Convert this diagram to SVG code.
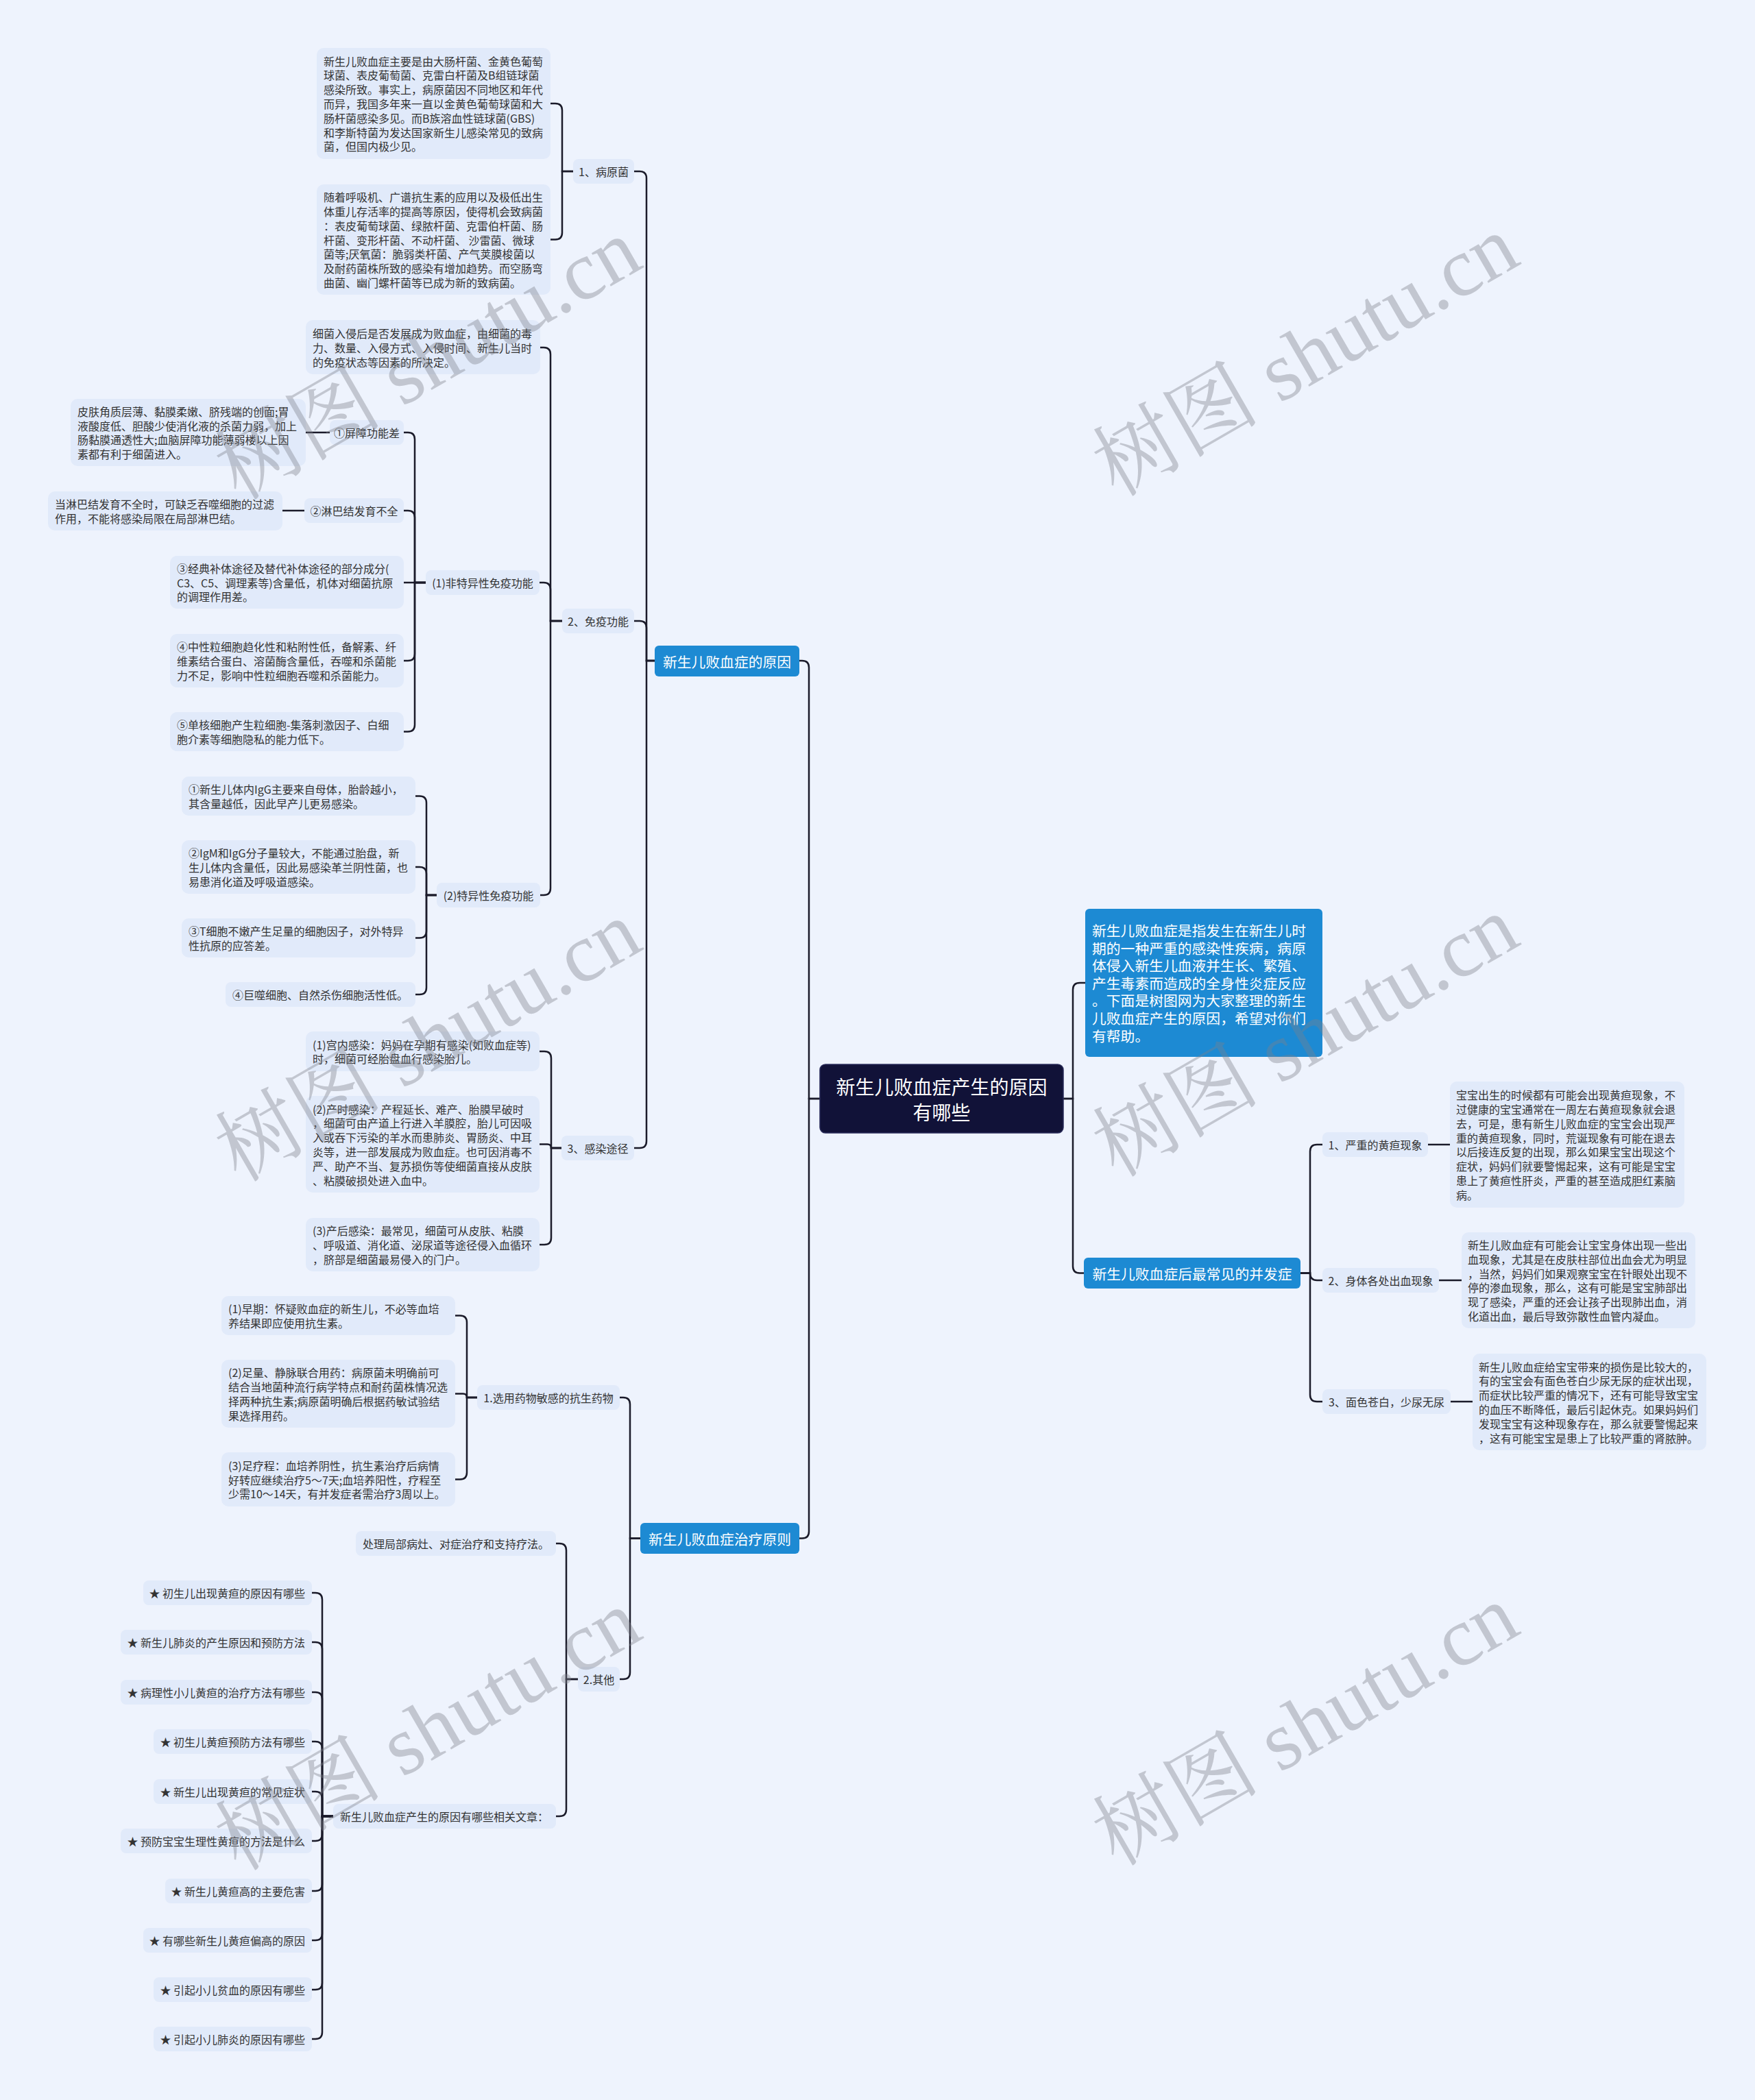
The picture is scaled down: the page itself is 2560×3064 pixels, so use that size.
<svg xmlns="http://www.w3.org/2000/svg" width="2560" height="3064" viewBox="0 0 2560 3064">
<style>
.bg{fill:#eef3fd}
.n rect{fill:#e1eafa}
.b rect{fill:#1d8ad3}
.t{font-family:"Noto Sans CJK SC","Noto Sans",sans-serif;font-size:16px;fill:#333;dominant-baseline:central}
.tc{text-anchor:middle}
.te{text-anchor:end}
.tw{font-family:"Noto Sans CJK SC","Noto Sans",sans-serif;font-size:20.8px;fill:#fff;dominant-baseline:central}
.tr{font-family:"Noto Sans CJK SC","Noto Sans",sans-serif;font-size:28px;fill:#fff;dominant-baseline:central;text-anchor:middle}
.c path{fill:none;stroke:#1b1b2a;stroke-width:2.5}
.wm{font-family:"Liberation Serif","Noto Serif CJK SC","Noto Sans CJK SC",serif;font-size:122px;fill:#7d808a;opacity:0.38}
</style>
<rect class="bg" x="0" y="0" width="2560" height="3064"/>

<g id="connectors" class="c">
<path d="M1196 1603 H1180 V974 Q1180 964 1170 964 H1166"/>
<path d="M1196 1603 H1180 V2234.5 Q1180 2244.5 1170 2244.5 H1166"/>
<path d="M1551 1603 H1565 V1444 Q1565 1434 1575 1434 H1583"/>
<path d="M1551 1603 H1565 V1847.5 Q1565 1857.5 1575 1857.5 H1581"/>
<path d="M955 964 H943 V260 Q943 250 933 250 H925"/>
<path d="M955 964 H943 V916 Q943 906 933 906 H925"/>
<path d="M955 964 H943 V1665 Q943 1675 933 1675 H925"/>
<path d="M836 250 H820 V161 Q820 151 810 151 H803"/>
<path d="M836 250 H820 V339.5 Q820 349.5 810 349.5 H803"/>
<path d="M820 906 H803 V517 Q803 507 793 507 H788"/>
<path d="M820 906 H803 V860 Q803 850 793 850 H787"/>
<path d="M820 906 H803 V1296 Q803 1306 793 1306 H788"/>
<path d="M621 850 H605 V641 Q605 631 595 631 H589"/>
<path d="M621 850 H605 V755 Q605 745 595 745 H589"/>
<path d="M621 850 H589"/>
<path d="M621 850 H605 V954 Q605 964 595 964 H589"/>
<path d="M621 850 H605 V1057.5 Q605 1067.5 595 1067.5 H589"/>
<path d="M481 631 H446"/>
<path d="M444 745 H412"/>
<path d="M637 1306 H622 V1171.5 Q622 1161.5 612 1161.5 H606"/>
<path d="M637 1306 H622 V1275 Q622 1265 612 1265 H606"/>
<path d="M637 1306 H622 V1358.5 Q622 1368.5 612 1368.5 H606"/>
<path d="M637 1306 H622 V1441 Q622 1451 612 1451 H606"/>
<path d="M819 1675 H804 V1544 Q804 1534 794 1534 H787"/>
<path d="M819 1675 H804 Q804 1669.5 798.5 1669.5 H787"/>
<path d="M819 1675 H804 V1806 Q804 1816 794 1816 H787"/>
<path d="M934 2244.5 H919 V2049 Q919 2039 909 2039 H904"/>
<path d="M934 2244.5 H919 V2440 Q919 2450 909 2450 H904"/>
<path d="M696 2039 H681 V1929.5 Q681 1919.5 671 1919.5 H664"/>
<path d="M696 2039 H681 Q681 2033.5 675.5 2033.5 H664"/>
<path d="M696 2039 H681 V2148.5 Q681 2158.5 671 2158.5 H664"/>
<path d="M843 2450 H826 V2262 Q826 2252 816 2252 H811"/>
<path d="M843 2450 H826 V2640 Q826 2650 816 2650 H811"/>
<path d="M486 2650 H470 V2334 Q470 2324 460 2324 H455"/>
<path d="M486 2650 H470 V2406 Q470 2396 460 2396 H455"/>
<path d="M486 2650 H470 V2479 Q470 2469 460 2469 H455"/>
<path d="M486 2650 H470 V2551 Q470 2541 460 2541 H455"/>
<path d="M486 2650 H470 V2624 Q470 2614 460 2614 H455"/>
<path d="M486 2650 H470 V2676 Q470 2686 460 2686 H455"/>
<path d="M486 2650 H470 V2749 Q470 2759 460 2759 H455"/>
<path d="M486 2650 H470 V2821 Q470 2831 460 2831 H455"/>
<path d="M486 2650 H470 V2893 Q470 2903 460 2903 H455"/>
<path d="M486 2650 H470 V2965 Q470 2975 460 2975 H455"/>
<path d="M1897 1857.5 H1911 V1680 Q1911 1670 1921 1670 H1929"/>
<path d="M1897 1857.5 H1911 Q1911 1868 1921 1868 H1929"/>
<path d="M1897 1857.5 H1911 V2035 Q1911 2045 1921 2045 H1929"/>
<path d="M2083 1670 H2115"/>
<path d="M2099 1868 H2132"/>
<path d="M2116 2045 H2148"/>
</g>

<g id="root"><rect x="1196" y="1553" width="355" height="100" rx="8" fill="#111238" stroke="#2a2c5a" stroke-width="1.5"/>
<text class="tr" x="1373.5" y="1585">新生儿败血症产生的原因</text><text class="tr" x="1373.5" y="1622">有哪些</text></g>

<g id="cause" class="b"><rect x="955" y="942" width="211" height="45" rx="6"/><text class="tw tc" x="1060.5" y="964.5">新生儿败血症的原因</text></g>
<g id="treat" class="b"><rect x="934" y="2222" width="232" height="45" rx="6"/><text class="tw tc" x="1050" y="2244.5">新生儿败血症治疗原则</text></g>
<g id="intro" class="b"><rect x="1583" y="1326" width="346" height="216" rx="6"/>
<text class="tw"><tspan x="1593" y="1357">新生儿败血症是指发生在新生儿时</tspan><tspan x="1593" y="1382.6">期的一种严重的感染性疾病，病原</tspan><tspan x="1593" y="1408.2">体侵入新生儿血液并生长、繁殖、</tspan><tspan x="1593" y="1433.8">产生毒素而造成的全身性炎症反应</tspan><tspan x="1593" y="1459.4">。下面是树图网为大家整理的新生</tspan><tspan x="1593" y="1485">儿败血症产生的原因，希望对你们</tspan><tspan x="1593" y="1510.6">有帮助。</tspan></text></g>
<g id="complic" class="b"><rect x="1581" y="1835" width="316" height="45" rx="6"/><text class="tw tc" x="1739" y="1857.5">新生儿败血症后最常见的并发症</text></g>

<g id="n1" class="n"><rect x="836" y="232" width="89" height="36" rx="8"/><text class="t tc" x="880.5" y="250">1、病原菌</text></g>
<g id="t1a" class="n"><rect x="462" y="70" width="341" height="162" rx="10"/>
<text class="t"><tspan x="472" y="88.6">新生儿败血症主要是由大肠杆菌、金黄色葡萄</tspan><tspan x="472" y="109.4">球菌、表皮葡萄菌、克雷白杆菌及B组链球菌</tspan><tspan x="472" y="130.2">感染所致。事实上，病原菌因不同地区和年代</tspan><tspan x="472" y="151">而异，我国多年来一直以金黄色葡萄球菌和大</tspan><tspan x="472" y="171.8">肠杆菌感染多见。而B族溶血性链球菌(GBS)</tspan><tspan x="472" y="192.6">和李斯特菌为发达国家新生儿感染常见的致病</tspan><tspan x="472" y="213.4">菌，但国内极少见。</tspan></text></g>
<g id="t1b" class="n"><rect x="462" y="269" width="341" height="161" rx="10"/>
<text class="t"><tspan x="472" y="287.1">随着呼吸机、广谱抗生素的应用以及极低出生</tspan><tspan x="472" y="307.9">体重儿存活率的提高等原因，使得机会致病菌</tspan><tspan x="472" y="328.7">：表皮葡萄球菌、绿脓杆菌、克雷伯杆菌、肠</tspan><tspan x="472" y="349.5">杆菌、变形杆菌、不动杆菌、 沙雷菌、微球</tspan><tspan x="472" y="370.3">菌等;厌氧菌：脆弱类杆菌、产气荚膜梭菌以</tspan><tspan x="472" y="391.1">及耐药菌株所致的感染有增加趋势。而空肠弯</tspan><tspan x="472" y="411.9">曲菌、幽门螺杆菌等已成为新的致病菌。</tspan></text></g>

<g id="n2" class="n"><rect x="820" y="888" width="105" height="36" rx="8"/><text class="t tc" x="872.5" y="906">2、免疫功能</text></g>
<g id="t2" class="n"><rect x="446" y="467" width="342" height="79" rx="10"/>
<text class="t"><tspan x="456" y="486.2">细菌入侵后是否发展成为败血症，由细菌的毒</tspan><tspan x="456" y="507">力、数量、入侵方式、入侵时间、新生儿当时</tspan><tspan x="456" y="527.8">的免疫状态等因素的所决定。</tspan></text></g>
<g id="n21" class="n"><rect x="621" y="832" width="166" height="36" rx="8"/><text class="t tc" x="704" y="850">(1)非特异性免疫功能</text></g>
<g id="n211" class="n"><rect x="481" y="613" width="108" height="36" rx="8"/><text class="t tc" x="535" y="631">①屏障功能差</text></g>
<g id="t211" class="n"><rect x="103" y="582" width="343" height="98" rx="10"/>
<text class="t"><tspan x="113" y="599.8">皮肤角质层薄、黏膜柔嫩、脐残端的创面;胃</tspan><tspan x="113" y="620.6">液酸度低、胆酸少使消化液的杀菌力弱，加上</tspan><tspan x="113" y="641.4">肠黏膜通透性大;血脑屏障功能薄弱楼以上因</tspan><tspan x="113" y="662.2">素都有利于细菌进入。</tspan></text></g>
<g id="n212" class="n"><rect x="444" y="727" width="145" height="36" rx="8"/><text class="t tc" x="516.5" y="745">②淋巴结发育不全</text></g>
<g id="t212" class="n"><rect x="70" y="717" width="342" height="57" rx="10"/>
<text class="t"><tspan x="80" y="735.1">当淋巴结发育不全时，可缺乏吞噬细胞的过滤</tspan><tspan x="80" y="755.9">作用，不能将感染局限在局部淋巴结。</tspan></text></g>
<g id="t213" class="n"><rect x="248" y="811" width="341" height="77" rx="10"/>
<text class="t"><tspan x="258" y="828.7">③经典补体途径及替代补体途径的部分成分(</tspan><tspan x="258" y="849.5">C3、C5、调理素等)含量低，机体对细菌抗原</tspan><tspan x="258" y="870.3">的调理作用差。</tspan></text></g>
<g id="t214" class="n"><rect x="248" y="925" width="341" height="78" rx="10"/>
<text class="t"><tspan x="258" y="943.2">④中性粒细胞趋化性和粘附性低，备解素、纤</tspan><tspan x="258" y="964">维素结合蛋白、溶菌酶含量低，吞噬和杀菌能</tspan><tspan x="258" y="984.8">力不足，影响中性粒细胞吞噬和杀菌能力。</tspan></text></g>
<g id="t215" class="n"><rect x="248" y="1039" width="341" height="57" rx="10"/>
<text class="t"><tspan x="258" y="1057.1">⑤单核细胞产生粒细胞-集落刺激因子、白细</tspan><tspan x="258" y="1077.9">胞介素等细胞隐私的能力低下。</tspan></text></g>

<g id="n22" class="n"><rect x="637" y="1288" width="151" height="36" rx="8"/><text class="t tc" x="712.5" y="1306">(2)特异性免疫功能</text></g>
<g id="t221" class="n"><rect x="265" y="1133" width="341" height="57" rx="10"/>
<text class="t"><tspan x="275" y="1151.1">①新生儿体内IgG主要来自母体，胎龄越小，</tspan><tspan x="275" y="1171.9">其含量越低，因此早产儿更易感染。</tspan></text></g>
<g id="t222" class="n"><rect x="265" y="1226" width="341" height="78" rx="10"/>
<text class="t"><tspan x="275" y="1244.2">②IgM和IgG分子量较大，不能通过胎盘，新</tspan><tspan x="275" y="1265">生儿体内含量低，因此易感染革兰阴性菌，也</tspan><tspan x="275" y="1285.8">易患消化道及呼吸道感染。</tspan></text></g>
<g id="t223" class="n"><rect x="265" y="1340" width="341" height="57" rx="10"/>
<text class="t"><tspan x="275" y="1358.1">③T细胞不嫩产生足量的细胞因子，对外特异</tspan><tspan x="275" y="1378.9">性抗原的应答差。</tspan></text></g>
<g id="t224" class="n"><rect x="329" y="1433" width="277" height="36" rx="8"/><text class="t" x="339" y="1451">④巨噬细胞、自然杀伤细胞活性低。</text></g>

<g id="n3" class="n"><rect x="819" y="1657" width="106" height="36" rx="8"/><text class="t tc" x="872" y="1675">3、感染途径</text></g>
<g id="t31" class="n"><rect x="446" y="1505" width="341" height="58" rx="10"/>
<text class="t"><tspan x="456" y="1523.6">(1)宫内感染：妈妈在孕期有感染(如败血症等)</tspan><tspan x="456" y="1544.4">时，细菌可经胎盘血行感染胎儿。</tspan></text></g>
<g id="t32" class="n"><rect x="446" y="1599" width="341" height="141" rx="10"/>
<text class="t"><tspan x="456" y="1617.5">(2)产时感染：产程延长、难产、胎膜早破时</tspan><tspan x="456" y="1638.3">，细菌可由产道上行进入羊膜腔，胎儿可因吸</tspan><tspan x="456" y="1659.1">入或吞下污染的羊水而患肺炎、胃肠炎、中耳</tspan><tspan x="456" y="1679.9">炎等，进一部发展成为败血症。也可因消毒不</tspan><tspan x="456" y="1700.7">严、助产不当、复苏损伤等使细菌直接从皮肤</tspan><tspan x="456" y="1721.5">、粘膜破损处进入血中。</tspan></text></g>
<g id="t33" class="n"><rect x="446" y="1777" width="341" height="78" rx="10"/>
<text class="t"><tspan x="456" y="1795.2">(3)产后感染：最常见，细菌可从皮肤、粘膜</tspan><tspan x="456" y="1816">、呼吸道、消化道、泌尿道等途径侵入血循环</tspan><tspan x="456" y="1836.8">，脐部是细菌最易侵入的门户。</tspan></text></g>

<g id="n4" class="n"><rect x="696" y="2021" width="208" height="36" rx="8"/><text class="t tc" x="800" y="2039">1.选用药物敏感的抗生药物</text></g>
<g id="t41" class="n"><rect x="323" y="1891" width="341" height="57" rx="10"/>
<text class="t"><tspan x="333" y="1909.1">(1)早期：怀疑败血症的新生儿，不必等血培</tspan><tspan x="333" y="1929.9">养结果即应使用抗生素。</tspan></text></g>
<g id="t42" class="n"><rect x="323" y="1984" width="341" height="99" rx="10"/>
<text class="t"><tspan x="333" y="2002.3">(2)足量、静脉联合用药：病原菌未明确前可</tspan><tspan x="333" y="2023.1">结合当地菌种流行病学特点和耐药菌株情况选</tspan><tspan x="333" y="2043.9">择两种抗生素;病原菌明确后根据药敏试验结</tspan><tspan x="333" y="2064.7">果选择用药。</tspan></text></g>
<g id="t43" class="n"><rect x="323" y="2119" width="341" height="79" rx="10"/>
<text class="t"><tspan x="333" y="2137.7">(3)足疗程：血培养阴性，抗生素治疗后病情</tspan><tspan x="333" y="2158.5">好转应继续治疗5～7天;血培养阳性，疗程至</tspan><tspan x="333" y="2179.3">少需10～14天，有并发症者需治疗3周以上。</tspan></text></g>

<g id="n5" class="n"><rect x="843" y="2432" width="61" height="36" rx="8"/><text class="t tc" x="873.5" y="2450">2.其他</text></g>
<g id="t51" class="n"><rect x="519" y="2234" width="292" height="36" rx="8"/><text class="t" x="529" y="2252">处理局部病灶、对症治疗和支持疗法。</text></g>
<g id="n52" class="n"><rect x="486" y="2632" width="325" height="36" rx="8"/><text class="t" x="496" y="2650">新生儿败血症产生的原因有哪些相关文章：</text></g>

<g id="a1" class="n"><rect x="209" y="2306" width="246" height="36" rx="8"/><text class="t te" x="445" y="2324">★ 初生儿出现黄疸的原因有哪些</text></g>
<g id="a2" class="n"><rect x="176" y="2378" width="279" height="36" rx="8"/><text class="t te" x="445" y="2396">★ 新生儿肺炎的产生原因和预防方法</text></g>
<g id="a3" class="n"><rect x="176" y="2451" width="279" height="36" rx="8"/><text class="t te" x="445" y="2469">★ 病理性小儿黄疸的治疗方法有哪些</text></g>
<g id="a4" class="n"><rect x="224" y="2523" width="231" height="36" rx="8"/><text class="t te" x="445" y="2541">★ 初生儿黄疸预防方法有哪些</text></g>
<g id="a5" class="n"><rect x="224" y="2596" width="231" height="36" rx="8"/><text class="t te" x="445" y="2614">★ 新生儿出现黄疸的常见症状</text></g>
<g id="a6" class="n"><rect x="176" y="2668" width="279" height="36" rx="8"/><text class="t te" x="445" y="2686">★ 预防宝宝生理性黄疸的方法是什么</text></g>
<g id="a7" class="n"><rect x="241" y="2741" width="214" height="36" rx="8"/><text class="t te" x="445" y="2759">★ 新生儿黄疸高的主要危害</text></g>
<g id="a8" class="n"><rect x="209" y="2813" width="246" height="36" rx="8"/><text class="t te" x="445" y="2831">★ 有哪些新生儿黄疸偏高的原因</text></g>
<g id="a9" class="n"><rect x="224" y="2885" width="231" height="36" rx="8"/><text class="t te" x="445" y="2903">★ 引起小儿贫血的原因有哪些</text></g>
<g id="a10" class="n"><rect x="224" y="2957" width="231" height="36" rx="8"/><text class="t te" x="445" y="2975">★ 引起小儿肺炎的原因有哪些</text></g>

<g id="r1" class="n"><rect x="1929" y="1652" width="154" height="36" rx="8"/><text class="t tc" x="2006" y="1670">1、严重的黄疸现象</text></g>
<g id="r1t" class="n"><rect x="2115" y="1578" width="342" height="184" rx="10"/>
<text class="t"><tspan x="2124" y="1597.2">宝宝出生的时候都有可能会出现黄疸现象，不</tspan><tspan x="2124" y="1618">过健康的宝宝通常在一周左右黄疸现象就会退</tspan><tspan x="2124" y="1638.8">去，可是，患有新生儿败血症的宝宝会出现严</tspan><tspan x="2124" y="1659.6">重的黄疸现象，同时，荒诞现象有可能在退去</tspan><tspan x="2124" y="1680.4">以后接连反复的出现，那么如果宝宝出现这个</tspan><tspan x="2124" y="1701.2">症状，妈妈们就要警惕起来，这有可能是宝宝</tspan><tspan x="2124" y="1722">患上了黄疸性肝炎，严重的甚至造成胆红素脑</tspan><tspan x="2124" y="1742.8">病。</tspan></text></g>
<g id="r2" class="n"><rect x="1929" y="1850" width="170" height="36" rx="8"/><text class="t tc" x="2014" y="1868">2、身体各处出血现象</text></g>
<g id="r2t" class="n"><rect x="2132" y="1798" width="341" height="140" rx="10"/>
<text class="t"><tspan x="2141" y="1816">新生儿败血症有可能会让宝宝身体出现一些出</tspan><tspan x="2141" y="1836.8">血现象，尤其是在皮肤柱部位出血会尤为明显</tspan><tspan x="2141" y="1857.6">，当然，妈妈们如果观察宝宝在针眼处出现不</tspan><tspan x="2141" y="1878.4">停的渗血现象，那么，这有可能是宝宝肺部出</tspan><tspan x="2141" y="1899.2">现了感染，严重的还会让孩子出现肺出血，消</tspan><tspan x="2141" y="1920">化道出血，最后导致弥散性血管内凝血。</tspan></text></g>
<g id="r3" class="n"><rect x="1929" y="2027" width="187" height="36" rx="8"/><text class="t tc" x="2022.5" y="2045">3、面色苍白，少尿无尿</text></g>
<g id="r3t" class="n"><rect x="2148" y="1975" width="341" height="141" rx="10"/>
<text class="t"><tspan x="2157" y="1993.5">新生儿败血症给宝宝带来的损伤是比较大的，</tspan><tspan x="2157" y="2014.3">有的宝宝会有面色苍白少尿无尿的症状出现，</tspan><tspan x="2157" y="2035.1">而症状比较严重的情况下，还有可能导致宝宝</tspan><tspan x="2157" y="2055.9">的血压不断降低，最后引起休克。如果妈妈们</tspan><tspan x="2157" y="2076.7">发现宝宝有这种现象存在，那么就要警惕起来</tspan><tspan x="2157" y="2097.5">，这有可能宝宝是患上了比较严重的肾脓肿。</tspan></text></g>

<g id="watermarks">
<text class="wm" text-anchor="middle" transform="translate(645 560) rotate(-30)">树图 shutu.cn</text>
<text class="wm" text-anchor="middle" transform="translate(1925 555) rotate(-30)">树图 shutu.cn</text>
<text class="wm" text-anchor="middle" transform="translate(645 1555) rotate(-30)">树图 shutu.cn</text>
<text class="wm" text-anchor="middle" transform="translate(1925 1548) rotate(-30)">树图 shutu.cn</text>
<text class="wm" text-anchor="middle" transform="translate(645 2560) rotate(-30)">树图 shutu.cn</text>
<text class="wm" text-anchor="middle" transform="translate(1925 2553) rotate(-30)">树图 shutu.cn</text>
</g>
</svg>
